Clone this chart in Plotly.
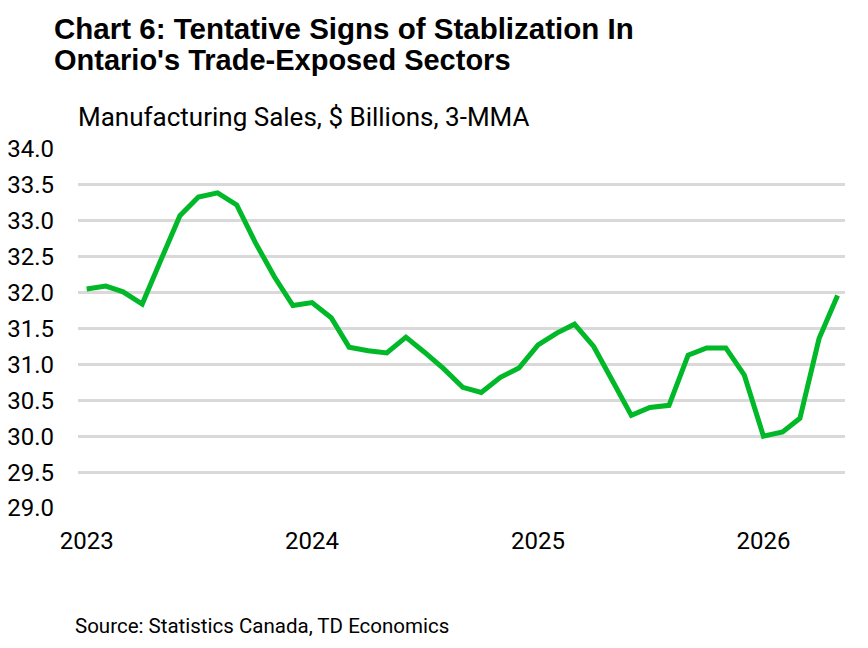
import plotly.graph_objects as go

months = [
    "2023-01-01", "2023-02-01", "2023-03-01", "2023-04-01", "2023-05-01", "2023-06-01",
    "2023-07-01", "2023-08-01", "2023-09-01", "2023-10-01", "2023-11-01", "2023-12-01",
    "2024-01-01", "2024-02-01", "2024-03-01", "2024-04-01", "2024-05-01", "2024-06-01",
    "2024-07-01", "2024-08-01", "2024-09-01", "2024-10-01", "2024-11-01", "2024-12-01",
    "2025-01-01", "2025-02-01", "2025-03-01", "2025-04-01", "2025-05-01", "2025-06-01",
    "2025-07-01", "2025-08-01", "2025-09-01", "2025-10-01", "2025-11-01", "2025-12-01",
    "2026-01-01", "2026-02-01", "2026-03-01", "2026-04-01", "2026-05-01",
]

sales = [
    32.05, 32.09, 32.01, 31.84, 32.45, 33.07, 33.33, 33.39, 33.22, 32.70, 32.22, 31.82,
    31.86, 31.65, 31.24, 31.19, 31.16, 31.38, 31.17, 30.94, 30.68, 30.61, 30.82, 30.95,
    31.27, 31.44, 31.56, 31.25, 30.78, 30.29, 30.40, 30.43, 31.13, 31.23, 31.23, 30.85,
    30.00, 30.06, 30.25, 31.36, 31.96,
]

year_ticks = ["2023-01-01", "2024-01-01", "2025-01-01", "2026-01-01"]
year_labels = ["2023", "2024", "2025", "2026"]
y_ticks = [29.0, 29.5, 30.0, 30.5, 31.0, 31.5, 32.0, 32.5, 33.0, 33.5, 34.0]

title_line1 = "Chart 6: Tentative Signs of Stablization In"
title_line2 = "Ontario's Trade-Exposed Sectors"
subtitle = "Manufacturing Sales, $ Billions, 3-MMA"
source = "Source: Statistics Canada, TD Economics"

TITLE_FONT = "'Liberation Sans', Arial, sans-serif"
FONT = "Roboto, 'Liberation Sans', Arial, sans-serif"

fig = go.Figure()
fig.add_trace(go.Scatter(
    x=months, y=sales, mode="lines",
    line=dict(color="#00B828", width=5),
    hoverinfo="x+y", showlegend=False,
))

fig.update_layout(
    width=860, height=640,
    margin=dict(l=70, r=23, t=141, b=140, pad=0),
    paper_bgcolor="white", plot_bgcolor="white",
    font=dict(family=FONT, color="#000000"),
    xaxis=dict(
        type="date",
        range=["2022-12-18", "2026-05-13"],
        tickvals=year_ticks, ticktext=year_labels,
        showgrid=False, zeroline=False, showline=False,
        ticks="", ticklabelstandoff=16, automargin=False,
        tickfont=dict(size=24, family=FONT, color="#000000"),
    ),
    yaxis=dict(
        range=[29, 34],
        tickvals=y_ticks, tickformat=".1f",
        showgrid=True, gridcolor="#D9D9D9", gridwidth=2.5,
        zeroline=False, showline=False,
        ticks="", ticklabelstandoff=23, automargin=False,
        tickfont=dict(size=24, family=FONT, color="#000000"),
    ),
    annotations=[
        dict(text="<b>" + title_line1 + "</b>", xref="paper", yref="paper",
             x=-0.0339, y=1.335, xanchor="left", yanchor="middle", showarrow=False,
             font=dict(size=29.5, family=TITLE_FONT, color="#000000")),
        dict(text="<b>" + title_line2 + "</b>", xref="paper", yref="paper",
             x=-0.0339, y=1.248, xanchor="left", yanchor="middle", showarrow=False,
             font=dict(size=29, family=TITLE_FONT, color="#000000")),
        dict(text=subtitle, xref="paper", yref="paper",
             x=-0.003, y=1.090, xanchor="left", yanchor="middle", showarrow=False,
             font=dict(size=26, family=FONT, color="#000000")),
        dict(text=source, xref="paper", yref="paper",
             x=-0.007, y=-0.3279, xanchor="left", yanchor="middle", showarrow=False,
             font=dict(size=20.5, family=FONT, color="#000000")),
    ],
)

fig.write_html("out.html")
